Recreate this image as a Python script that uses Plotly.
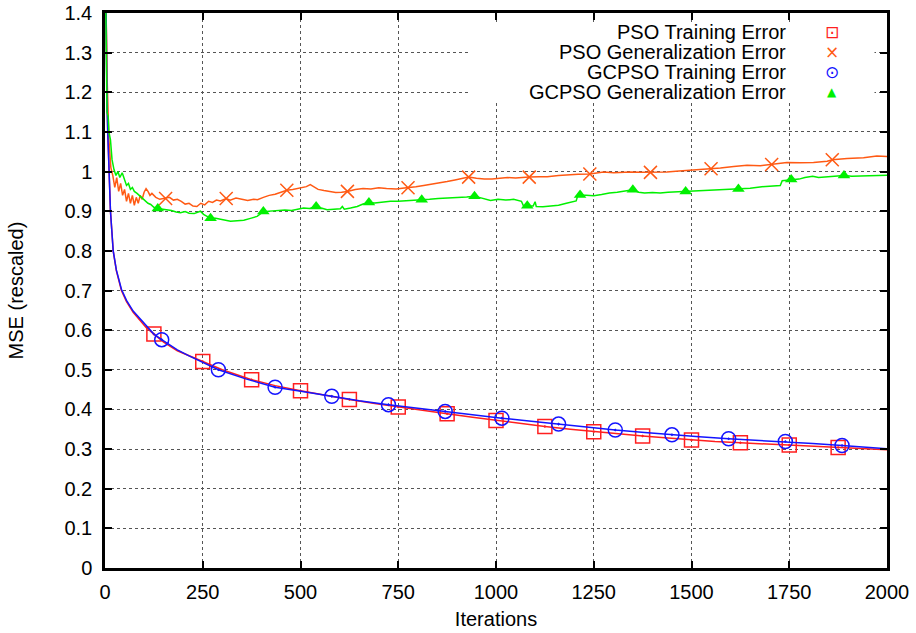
import plotly.graph_objects as go

# ---------------- data ----------------
pso_train_x = [0, 2, 4, 5, 7, 10, 14, 21, 29, 42, 55, 72, 90, 105, 125, 150, 185, 215, 250, 300,
               375, 435, 500, 560, 625, 690, 750, 810, 875, 940, 1000, 1060, 1125, 1190, 1250,
               1310, 1375, 1440, 1500, 1560, 1625, 1690, 1750, 1810, 1875, 1940, 2000]
pso_train_y = [1.70, 1.45, 1.27, 1.19, 1.10, 1.00, 0.90, 0.80, 0.75, 0.70, 0.672, 0.645, 0.625, 0.607,
               0.590, 0.570, 0.548, 0.535, 0.521, 0.500, 0.475, 0.460, 0.447, 0.436, 0.425, 0.415,
               0.406, 0.397, 0.389, 0.380, 0.372, 0.364, 0.357, 0.350, 0.344, 0.338, 0.333, 0.328,
               0.323, 0.319, 0.316, 0.313, 0.310, 0.307, 0.304, 0.301, 0.298]
pso_train_marks = [125, 250, 375, 500, 625, 750, 875, 1000, 1125, 1250, 1375, 1500, 1625, 1750, 1875]

gc_train_x = [0, 2, 4, 5, 7, 10, 14, 21, 29, 42, 55, 72, 90, 105, 125, 145, 185, 215, 250, 290,
              360, 435, 505, 580, 650, 725, 800, 870, 940, 1015, 1090, 1160, 1230, 1305, 1380,
              1450, 1520, 1595, 1670, 1740, 1810, 1885, 1940, 2000]
gc_train_y = [1.70, 1.45, 1.27, 1.18, 1.10, 1.00, 0.90, 0.80, 0.752, 0.703, 0.675, 0.648, 0.628, 0.610,
              0.590, 0.576, 0.550, 0.535, 0.519, 0.500, 0.477, 0.456, 0.445, 0.433, 0.422, 0.412,
              0.403, 0.395, 0.386, 0.378, 0.370, 0.363, 0.355, 0.348, 0.342, 0.336, 0.331, 0.326,
              0.322, 0.319, 0.314, 0.309, 0.305, 0.301]
gc_train_marks = [145, 290, 435, 580, 725, 870, 1015, 1160, 1305, 1450, 1595, 1740, 1885]

pso_gen_x = [0, 5, 10, 15, 20, 25, 30, 35, 40, 45, 50, 55, 60, 65, 70, 75, 80, 85, 90, 95, 100,
             105, 110, 115, 120, 130, 140, 155, 165, 175, 185, 195, 205, 215, 225, 235, 245, 255,
             265, 275, 285, 295, 310, 320, 335, 350, 365, 380, 390, 405, 420, 435, 450, 465, 480,
             500, 515, 525, 535, 545, 560, 575, 590, 605, 620, 640, 660, 680, 700, 720, 745, 760,
             775, 795, 815, 835, 855, 875, 895, 915, 930, 950, 970, 990, 1010, 1030, 1050, 1070,
             1085, 1110, 1131, 1160, 1182, 1210, 1240, 1275, 1301, 1320, 1344, 1370, 1395, 1420,
             1437, 1460, 1489, 1514, 1550, 1574, 1608, 1642, 1676, 1705, 1744, 1778, 1812, 1847,
             1860, 1898, 1940, 1974, 2000]
pso_gen_y = [1.60, 1.25, 1.08, 1.01, 0.990, 0.960, 0.985, 0.950, 0.970, 0.940, 0.955, 0.925, 0.945,
             0.920, 0.940, 0.915, 0.935, 0.920, 0.940, 0.930, 0.948, 0.957, 0.950, 0.940, 0.945,
             0.935, 0.930, 0.932, 0.935, 0.928, 0.930, 0.925, 0.918, 0.920, 0.913, 0.912, 0.920,
             0.916, 0.925, 0.922, 0.928, 0.926, 0.932, 0.928, 0.933, 0.930, 0.927, 0.930, 0.929,
             0.935, 0.940, 0.943, 0.948, 0.953, 0.955, 0.958, 0.962, 0.967, 0.960, 0.955, 0.952,
             0.950, 0.947, 0.948, 0.950, 0.955, 0.957, 0.956, 0.959, 0.957, 0.956, 0.958, 0.959,
             0.962, 0.965, 0.968, 0.972, 0.975, 0.979, 0.983, 0.986, 0.983, 0.981, 0.981, 0.983,
             0.985, 0.984, 0.986, 0.986, 0.987, 0.987, 0.990, 0.992, 0.993, 0.994, 0.999, 0.997,
             0.998, 0.999, 0.998, 0.998, 0.999, 0.999, 1.001, 1.003, 1.005, 1.007, 1.009, 1.013,
             1.016, 1.015, 1.018, 1.023, 1.022, 1.023, 1.026, 1.030, 1.033, 1.035, 1.039, 1.038]
pso_gen_marks = [155, 310, 465, 620, 775, 930, 1085, 1240, 1395, 1550, 1705, 1860]

gc_gen_x = [0, 3, 5, 8, 10, 14, 18, 23, 28, 33, 38, 44, 50, 55, 60, 65, 70, 75, 82, 88, 93, 99,
            105, 110, 117, 125, 135, 145, 157, 170, 182, 193, 205, 215, 228, 238, 244, 252, 261,
            270, 283, 295, 308, 321, 338, 355, 372, 389, 405, 420, 443, 460, 477, 490, 508, 523,
            540, 553, 568, 585, 602, 607, 612, 628, 645, 660, 675, 690, 710, 730, 750, 770, 790,
            810, 830, 852, 875, 900, 925, 945, 965, 986, 1005, 1025, 1045, 1065, 1070, 1080, 1095,
            1100, 1103, 1120, 1140, 1160, 1180, 1200, 1205, 1210, 1215, 1230, 1250, 1270, 1290,
            1310, 1330, 1350, 1365, 1380, 1400, 1420, 1440, 1460, 1485, 1510, 1535, 1560, 1590,
            1620, 1650, 1680, 1710, 1727, 1732, 1755, 1775, 1790, 1810, 1825, 1845, 1865, 1890,
            1910, 1940, 1970, 2000]
gc_gen_y = [1.60, 1.30, 1.15, 1.14, 1.10, 1.08, 1.03, 1.005, 0.990, 1.000, 0.985, 0.997, 0.980,
            0.965, 0.970, 0.955, 0.960, 0.950, 0.945, 0.940, 0.935, 0.929, 0.925, 0.920, 0.917,
            0.910, 0.907, 0.906, 0.905, 0.902, 0.898, 0.896, 0.899, 0.895, 0.894, 0.897, 0.900,
            0.892, 0.886, 0.882, 0.882, 0.880, 0.878, 0.875, 0.876, 0.877, 0.882, 0.887, 0.899,
            0.900, 0.900, 0.903, 0.902, 0.905, 0.908, 0.907, 0.912, 0.908, 0.904, 0.905, 0.906,
            0.912, 0.905, 0.908, 0.912, 0.918, 0.922, 0.921, 0.923, 0.925, 0.925, 0.926, 0.928,
            0.929, 0.930, 0.932, 0.933, 0.934, 0.936, 0.938, 0.933, 0.927, 0.930, 0.928, 0.930,
            0.925, 0.914, 0.914, 0.913, 0.924, 0.912, 0.911, 0.913, 0.915, 0.920, 0.925, 0.926,
            0.942, 0.941, 0.940, 0.939, 0.942, 0.946, 0.948, 0.951, 0.954, 0.948, 0.946, 0.947,
            0.946, 0.948, 0.949, 0.950, 0.951, 0.952, 0.953, 0.955, 0.956, 0.958, 0.962, 0.964,
            0.965, 0.977, 0.980, 0.981, 0.985, 0.988, 0.985, 0.986, 0.988, 0.990, 0.988, 0.989,
            0.991, 0.991]
gc_gen_marks = [135, 270, 405, 540, 675, 810, 945, 1080, 1215, 1350, 1485, 1620, 1755, 1890]

names = ["PSO Training Error", "PSO Generalization Error",
         "GCPSO Training Error", "GCPSO Generalization Error"]
x_ticks = [0, 250, 500, 750, 1000, 1250, 1500, 1750, 2000]

# ---------------- styles ----------------
RED = "#ff1f1f"
ORANGE = "#ff5a14"
BLUE = "#1414ff"
GREEN = "#00f000"

series = [
    (pso_train_x, pso_train_y, pso_train_marks, RED,
     dict(symbol="square-open-dot", size=14, color=RED, line=dict(width=1.5, color=RED))),
    (pso_gen_x, pso_gen_y, pso_gen_marks, ORANGE,
     dict(symbol="x-thin-open", size=13, color=ORANGE, line=dict(width=1.5, color=ORANGE))),
    (gc_train_x, gc_train_y, gc_train_marks, BLUE,
     dict(symbol="circle-open-dot", size=14, color=BLUE, line=dict(width=1.5, color=BLUE))),
    (gc_gen_x, gc_gen_y, gc_gen_marks, GREEN,
     dict(symbol="triangle-up", size=11, color=GREEN, line=dict(width=0))),
]

fig = go.Figure()
for (xs, ys, marks, col, mk), nm in zip(series, names):
    fig.add_trace(go.Scatter(x=xs, y=ys, mode="lines", name=nm, showlegend=False,
                             line=dict(color=col, width=1.5)))
    lookup = dict(zip(xs, ys))
    fig.add_trace(go.Scatter(x=marks, y=[lookup[m] for m in marks], mode="markers",
                             name=nm, showlegend=False, marker=mk, cliponaxis=False))

FONT = "Liberation Sans, Arial, Helvetica, sans-serif"
FS = 20

# legend (gnuplot-style: right aligned text, symbol on the right)
glyphs = [("\u22a1", RED, 17), ("\u00d7", ORANGE, 17), ("\u2299", BLUE, 17), ("\u25b2", GREEN, 12)]
row_y = [0.966, 0.930, 0.894, 0.858]
annotations = []
for nm, (g, col, gs), yy in zip(names, glyphs, row_y):
    annotations.append(dict(x=0.873, y=yy, xref="paper", yref="paper", text=nm,
                            xanchor="right", yanchor="middle", showarrow=False,
                            font=dict(family=FONT, size=FS, color="black")))
    annotations.append(dict(x=0.930, y=yy, xref="paper", yref="paper", text=g,
                            xanchor="center", yanchor="middle", showarrow=False,
                            font=dict(family="DejaVu Sans", size=gs, color=col)))

# opaque key box (covers the grid behind the key, as in the original)
shapes = [dict(type="rect", xref="paper", yref="paper", x0=0.468, x1=0.984, y0=0.838, y1=0.984,
               fillcolor="white", line=dict(width=0), layer="above")]

axis_common = dict(showline=True, linecolor="black", linewidth=2.5, mirror="ticks",
                   ticks="inside", ticklen=7, tickwidth=2, tickcolor="black",
                   showgrid=True, gridcolor="#555555", gridwidth=1, griddash="dot",
                   zeroline=False, automargin=False,
                   tickfont=dict(family=FONT, size=FS, color="black"))

fig.update_layout(
    width=916, height=633,
    margin=dict(l=105, r=29, t=13, b=65),
    paper_bgcolor="white", plot_bgcolor="white",
    xaxis=dict(range=[0, 2000], tickvals=x_ticks, ticktext=[str(v) for v in x_ticks],
               ticklabelstandoff=4,
               title=dict(text="Iterations", font=dict(family=FONT, size=FS, color="black"),
                          standoff=11),
               **axis_common),
    yaxis=dict(range=[0, 1.4], dtick=0.1, tick0=0, ticklabelstandoff=6,
               title=dict(text="MSE (rescaled)", font=dict(family=FONT, size=FS, color="black"),
                          standoff=36),
               **axis_common),
    annotations=annotations,
    shapes=shapes,
    showlegend=False,
)

fig.write_html("out.html")
